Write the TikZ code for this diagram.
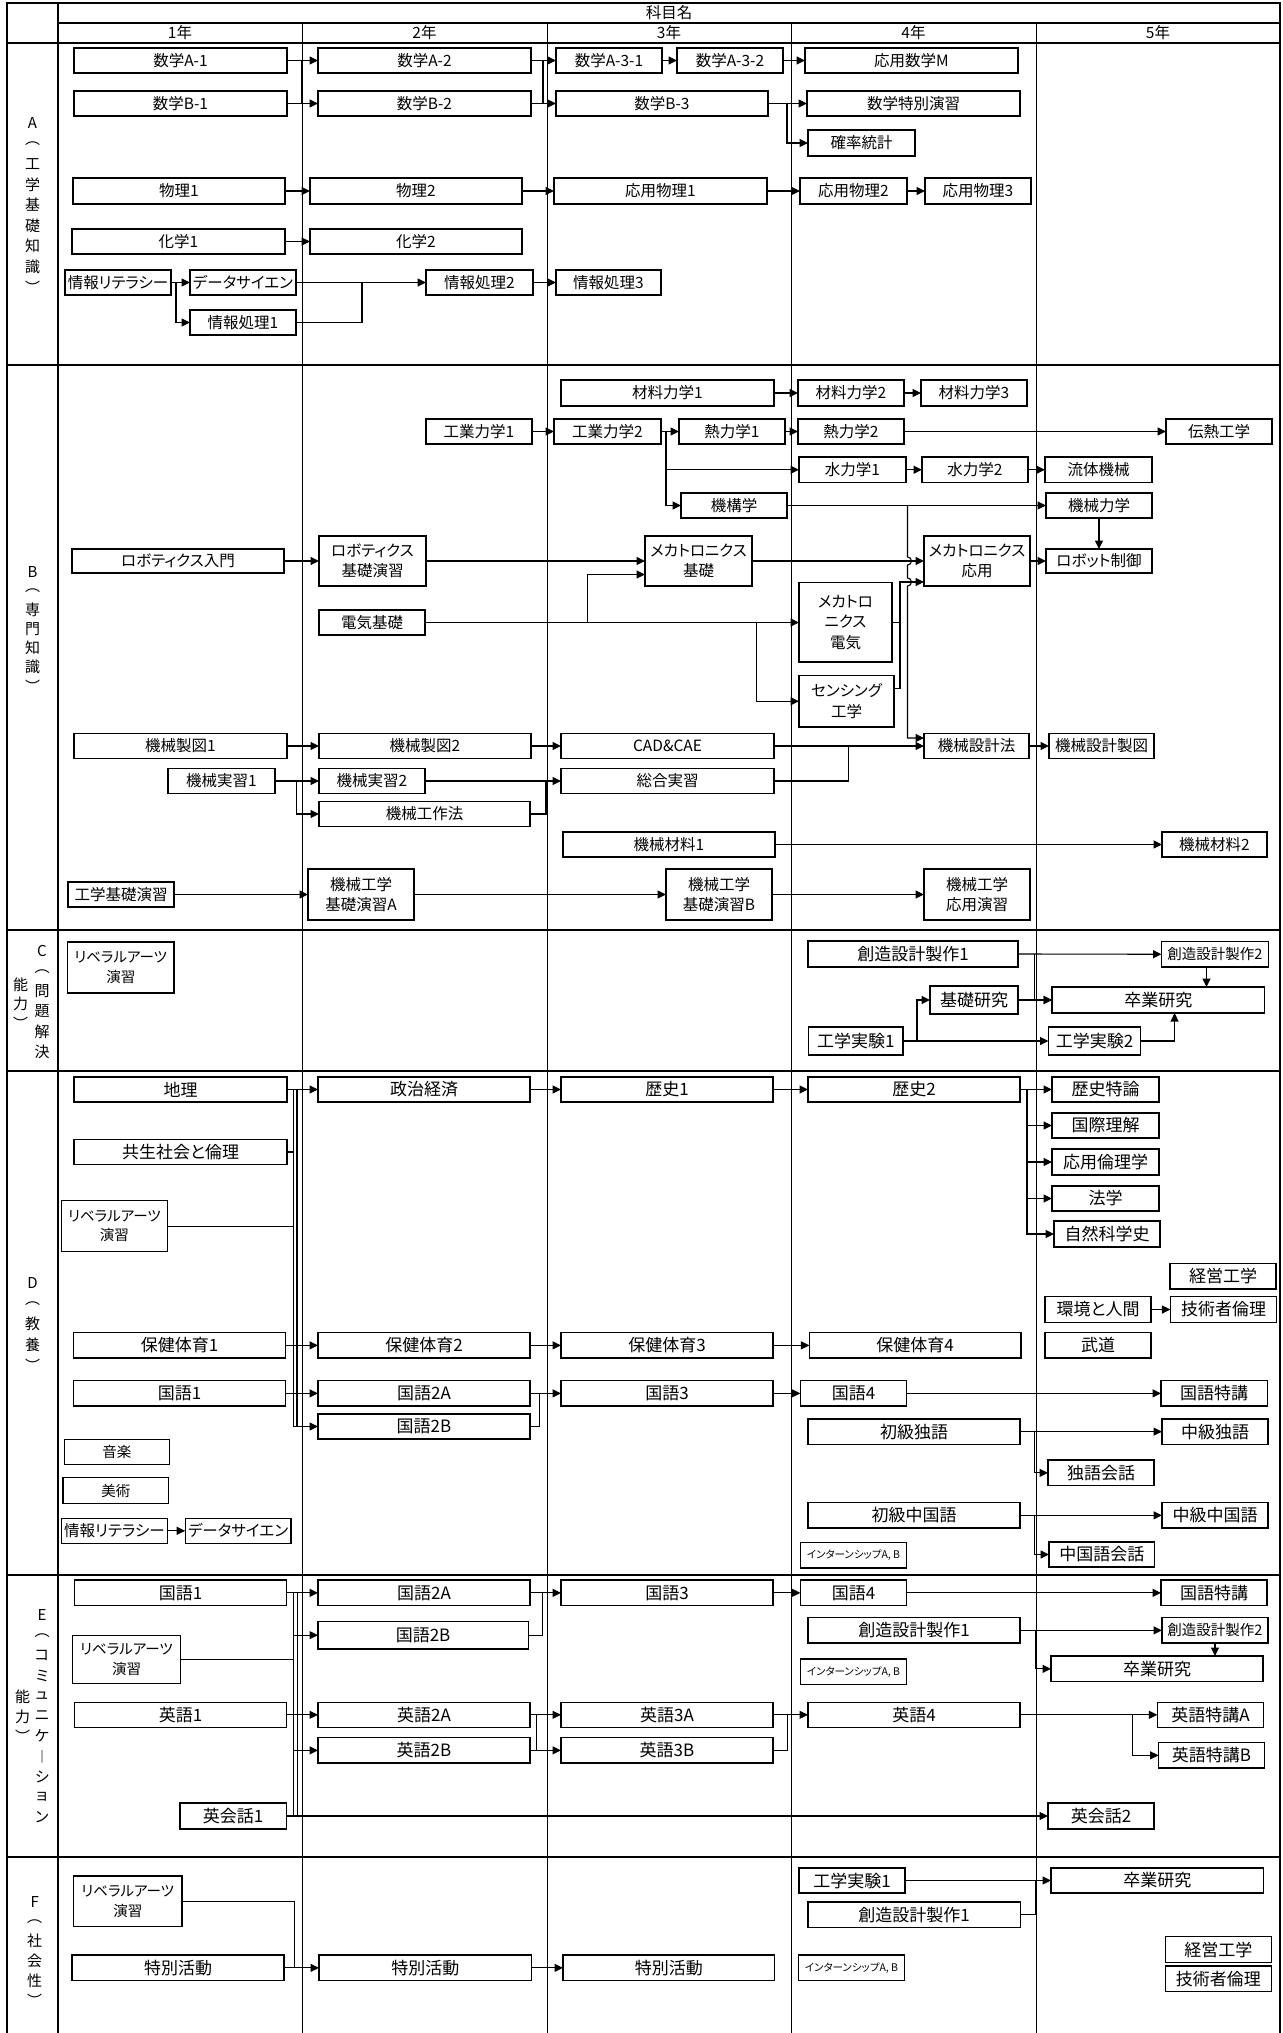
\documentclass[tikz,border=0pt]{standalone}
\usepackage{fontspec}
\usepackage{tikz}
\usetikzlibrary{arrows.meta}
\newfontfamily\jp[RawFeature=+palt]{Noto Sans CJK JP}

\tikzset{
  subjbox/.style={draw, line width=1.2pt, fill=white, inner sep=0pt, outer sep=0pt, align=center, font=\jp\fontsize{15.5}{20.5}\selectfont},
  normtxt/.style={font=\jp\fontsize{15.5}{20.5}\selectfont},
  bigtxt/.style={font=\jp\fontsize{17}{20}\selectfont},
  smalltxt/.style={font=\jp\fontsize{14.5}{19.5}\selectfont},
  tinytxt/.style={font=\jp\fontsize{10.5}{12}\selectfont},
  seclab/.style={inner sep=0pt, font=\jp\fontsize{15}{15}\selectfont},
  hdr/.style={inner sep=0pt, font=\jp\fontsize{15.5}{16}\selectfont}
}
% subject box by its corners: [opts]{name}{x1}{y1}{x2}{y2}{text}
\newcommand{\subj}[7][]{\node[subjbox,minimum width={(#5-#3)*1pt},minimum height={(#6-#4)*1pt},#1] (#2) at ({(#3+#5)/2},{(#4+#6)/2}) {#7};}

\begin{document}
\begin{tikzpicture}[x=1pt, y=-1pt,
  arr/.style={line width=1.1pt, -{Triangle[length=8.5pt,width=8pt]}},
  ln/.style={line width=1.1pt},
  thickrule/.style={line width=2.2pt},
  thinrule/.style={line width=0.9pt}]
\useasboundingbox (0,0) rectangle (1282,2033);
\fill[white] (0,0) rectangle (1282,2033);

% ---- Table frame ----
\foreach \xc in {302,547,791,1036}
  \draw[thinrule] (\xc,22.7) -- (\xc,2033);
\draw[thickrule] (7,2033) -- (7,3) -- (1280,3) -- (1280,2033);
\draw[thickrule] (58,3) -- (58,2033);
\draw[thickrule] (58,22.7) -- (1280,22.7);
\foreach \yr in {42.7,365,930,1071,1575,1857}
  \draw[thickrule] (7,\yr) -- (1280,\yr);

% header
\node[hdr] (kamoku) at (669,13) {科目名};
\foreach \n [count=\i] in {1,...,5}
  \node[hdr] (year\i) at ({180+(\i-1)*244.5},32.7) {\n 年};

% section labels (vertical)
\foreach \c [count=\i] in {A,︵,工,学,基,礎,知,識,︶}
  \node[seclab] (labA\i) at (32.5,{123+(\i-1)*20.5}) {\c};
\foreach \c [count=\i] in {B,︵,専,門,知,識,︶}
  \node[seclab] (labB\i) at (32.5,{572+(\i-1)*19}) {\c};
\foreach \c [count=\i] in {C,︵,問,題,解,決}
  \node[seclab] (labC\i) at (42,{951+(\i-1)*20.2}) {\c};
\foreach \c [count=\i] in {能,力,︶}
  \node[seclab] (labCc\i) at (20.5,{985+(\i-1)*19}) {\c};
\foreach \c [count=\i] in {D,︵,教,養,︶}
  \node[seclab] (labD\i) at (32.5,{1283+(\i-1)*20.5}) {\c};
\foreach \c [count=\i] in {E,︵,コ,ミ,ュ,ニ,ケ,︱,シ,ョ,ン}
  \node[seclab] (labE\i) at (42,{1615+(\i-1)*20.2}) {\c};
\foreach \c [count=\i] in {能,力,︶}
  \node[seclab] (labEc\i) at (22.5,{1696.7+(\i-1)*20}) {\c};
\foreach \c [count=\i] in {F,︵,社,会,性,︶}
  \node[seclab] (labF\i) at (34.7,{1901.7+(\i-1)*19.7}) {\c};

% ---- A: 工学基礎知識 ----
\subj{mA1}{74}{48}{287}{73}{数学A-1}
\subj{mA2}{318}{48}{531}{73}{数学A-2}
\subj{mA31}{556}{48}{662}{73}{数学A-3-1}
\subj{mA32}{677}{48}{783}{73}{数学A-3-2}
\subj{appM}{805}{48}{1018}{73}{応用数学M}
\subj{mB1}{74}{91}{287}{116}{数学B-1}
\subj{mB2}{318}{91}{531}{116}{数学B-2}
\subj{mB3}{556}{91}{768}{116}{数学B-3}
\subj{mSp}{807}{91}{1020}{116}{数学特別演習}
\subj{prob}{808}{130}{915}{156}{確率統計}
\subj{phy1}{73}{178}{285}{204}{物理1}
\subj{phy2}{310}{178}{522}{204}{物理2}
\subj{aph1}{554}{178}{767}{204}{応用物理1}
\subj{aph2}{800}{178}{907}{204}{応用物理2}
\subj{aph3}{925}{178}{1031}{204}{応用物理3}
\subj{chm1}{72}{229}{285}{254}{化学1}
\subj{chm2}{310}{229}{522}{254}{化学2}
\subj{litA}{65}{270}{171}{295}{情報リテラシー}
\subj{dsA}{190}{270}{296}{295}{データサイエン}
\subj{ip2}{426}{270}{533}{295}{情報処理2}
\subj{ip3}{556}{270}{661}{295}{情報処理3}
\subj{ip1}{190}{310}{296}{335}{情報処理1}

\draw[arr] (mA1.east) -- (mA2.west);
\draw[arr] (mB1.east) -- (mB2.west);
\coordinate (jA1) at (302,60.5);
\draw[ln] (jA1) -- (jA1 |- mB1.east);
\draw[arr] (mA2.east) -- (mA31.west);
\draw[arr] (mB2.east) -- (mB3.west);
\coordinate (jA2) at (543,60.5);
\draw[ln] (jA2) -- (jA2 |- mB2.east);
\draw[arr] (mA31.east) -- (mA32.west);
\draw[arr] (mA32.east) -- (appM.west);
\draw[arr] (mB3.east) -- (mSp.west);
\coordinate (jA3) at (787,103.5);
\draw[arr] (jA3) |- (prob.west);
\draw[arr] (phy1.east) -- (phy2.west);
\draw[arr] (phy2.east) -- (aph1.west);
\draw[arr] (aph1.east) -- (aph2.west);
\draw[arr] (aph2.east) -- (aph3.west);
\draw[arr] (chm1.east) -- (chm2.west);
\draw[arr] (litA.east) -- (dsA.west);
\coordinate (jA4) at (176,282.5);
\draw[arr] (jA4) |- (ip1.west);
\draw[arr] (dsA.east) -- (ip2.west);
\coordinate (jA5) at (362,282.5);
\draw[ln] (ip1.east) -| (jA5);
\draw[arr] (ip2.east) -- (ip3.west);

% ---- B: 専門知識 ----
\subj{zr1}{561}{380}{774}{406}{材料力学1}
\subj{zr2}{798}{380}{904}{406}{材料力学2}
\subj{zr3}{921}{380}{1027}{406}{材料力学3}
\subj{kg1}{426}{419}{532}{444}{工業力学1}
\subj{kg2}{554}{419}{661}{444}{工業力学2}
\subj{nt1}{679}{419}{785}{444}{熱力学1}
\subj{nt2}{798}{419}{904}{444}{熱力学2}
\subj{den}{1166}{419}{1272}{444}{伝熱工学}
\subj{sr1}{799}{457}{906}{482.5}{水力学1}
\subj{sr2}{922}{457}{1028}{482.5}{水力学2}
\subj{ryu}{1045}{457}{1152}{482.5}{流体機械}
\subj{kik}{681}{493}{787}{518}{機構学}
\subj{kir}{1046}{493}{1152}{518}{機械力学}
\subj{rbi}{72}{549}{284}{573}{ロボティクス入門}
\subj{rbk}{319}{536}{426}{586}{ロボティクス\\基礎演習}
\subj{mkk}{645}{536}{752}{586}{メカトロニクス\\基礎}
\subj{mko}{924}{536}{1030}{586}{メカトロニクス\\応用}
\subj{rbc}{1046}{549}{1152}{573}{ロボット制御}
\subj{dkk}{319}{610}{425}{635}{電気基礎}
\subj{mke}{799}{582.5}{892}{662}{メカトロ\\ニクス\\電気}
\subj{sen}{799}{675.5}{894}{727}{センシング\\工学}
\subj{sz1}{74}{733.5}{287}{758.5}{機械製図1}
\subj{sz2}{319}{733.5}{531}{758.5}{機械製図2}
\subj{cad}{561}{733.5}{774}{758.5}{CAD\&CAE}
\subj{sks}{924}{733.5}{1029}{758.5}{機械設計法}
\subj{ksz}{1049}{733.5}{1154}{758.5}{機械設計製図}
\subj{jz1}{168}{768.5}{275}{793.5}{機械実習1}
\subj{jz2}{319}{768.5}{425}{793.5}{機械実習2}
\subj{sgj}{561}{768.5}{774}{793.5}{総合実習}
\subj{kks}{319}{801.5}{530}{826.5}{機械工作法}
\subj{zi1}{563}{832}{775}{857}{機械材料1}
\subj{zi2}{1162}{832}{1267}{857}{機械材料2}
\subj{kke}{68}{882}{174}{907}{工学基礎演習}
\subj{kkA}{308}{869}{414}{920}{機械工学\\基礎演習A}
\subj{kkB}{666}{869}{772}{920}{機械工学\\基礎演習B}
\subj{kkO}{924}{869}{1030}{920}{機械工学\\応用演習}

\draw[arr] (zr1.east) -- (zr2.west);
\draw[arr] (zr2.east) -- (zr3.west);
\draw[arr] (kg1.east) -- (kg2.west);
\draw[arr] (kg2.east) -- (nt1.west);
\coordinate (jB1) at (666,431.5);
\draw[arr] (jB1) |- (sr1.west);
\draw[arr] (jB1) |- (kik.west);
\draw[arr] (nt1.east) -- (nt2.west);
\draw[arr] (nt2.east) -- (den.west);
\draw[arr] (sr1.east) -- (sr2.west);
\draw[arr] (sr2.east) -- (ryu.west);
\draw[arr] (kik.east) -- (kir.west);
% down to 機械設計法, hopping over two lines
\coordinate (jB2) at (907.5,505.5);
\coordinate (jB2b) at (907.5,738);
\draw[arr] (jB2) -- (907.5,557) arc[start angle=-90, end angle=90, radius=4]
  -- (907.5,578) arc[start angle=-90, end angle=90, radius=4]
  -- (jB2b) -- (jB2b -| sks.west);
\draw[arr] (rbi.east) -- (rbk.west);
\draw[arr] (rbk.east) -- (mkk.west);
\coordinate (jB3) at (587.5,622.5);
\coordinate (jB3b) at (587.5,574.5);
\draw[arr] (jB3) -- (jB3b) -- (jB3b -| mkk.west);
\draw[arr] (dkk.east) -- (dkk.east -| mke.west);
\coordinate (jB4) at (756.7,622.5);
\draw[arr] (jB4) |- (sen.west);
\draw[arr] (mkk.east) -- (mko.west);
\coordinate (jB5) at (900,582);
\draw[arr] ([yshift=12.5pt]sen.east) -| (jB5) -- (jB5 -| mko.west);
\draw[ln] (mke.east) -- (mke.east -| jB5);
\draw[arr] (mko.east) -- (rbc.west);
\draw[arr] (kir.south) -- (rbc.north);
\draw[arr] (sz1.east) -- (sz2.west);
\draw[arr] (sz2.east) -- (cad.west);
\draw[arr] (cad.east) -- (sks.west);
\draw[arr] (sks.east) -- (ksz.west);
\coordinate (jB6) at (848.3,746);
\draw[ln] (sgj.east) -| (jB6);
\draw[arr] (jz1.east) -- (jz2.west);
\coordinate (jB7) at (296.4,781);
\draw[arr] (jB7) |- (kks.west);
\draw[arr] (jz2.east) -- (sgj.west);
\coordinate (jB8) at (546,781);
\draw[ln] (kks.east) -| (jB8);
\draw[arr] (zi1.east) -- (zi2.west);
\draw[arr] (kke.east) -- (kkA.west);
\draw[arr] (kkA.east) -- (kkB.west);
\draw[arr] (kkB.east) -- (kkO.west);

\begin{scope}[subjbox/.append style={bigtxt}]
% ---- C: 問題解決能力 ----
\subj[smalltxt]{libC}{67.5}{942}{174}{993}{リベラルアーツ\\演習}
\subj{cre1}{808}{941}{1018}{967}{創造設計製作1}
\subj[smalltxt]{cre2}{1161.5}{941.5}{1268.5}{967}{創造設計製作2}
\subj{kiso}{930}{986}{1018}{1014}{基礎研究}
\subj{sotsu}{1052}{987}{1264.5}{1013}{卒業研究}
\subj{jk1}{808.5}{1027}{903}{1055}{工学実験1}
\subj{jk2}{1048.5}{1027}{1140.5}{1055}{工学実験2}

\draw[arr] (cre1.east) -- (cre2.west);
\coordinate (jC1) at (1034.3,954);
\draw[arr] (jC1) |- (sotsu.west);
\draw[arr] (kiso.east) -- (sotsu.west);
\coordinate (jC2) at (917,1041);
\draw[arr] (jC2) |- (kiso.west);
\draw[arr] (jk1.east) -- (jk2.west);
\draw[arr] (jk2.east) -| ([xshift=16.3pt]sotsu.south);
\draw[arr] ([xshift=-8.5pt]cre2.south) -- ([xshift=-8.5pt]cre2.south |- sotsu.north);

% ---- D: 教養 ----
\subj{geo}{74}{1077}{287}{1102}{地理}
\subj{pol}{318}{1077}{530}{1102}{政治経済}
\subj{his1}{561}{1077}{773}{1102}{歴史1}
\subj{his2}{808}{1077}{1020}{1102}{歴史2}
\subj{hisT}{1052}{1077}{1159}{1102}{歴史特論}
\subj{kok}{1052}{1113}{1159}{1138}{国際理解}
\subj{rin}{1052}{1149}{1159}{1175}{応用倫理学}
\subj{hou}{1052}{1186}{1159}{1211}{法学}
\subj{shz}{1054}{1221}{1160}{1247}{自然科学史}
\subj{kyo}{74}{1139.5}{287}{1164.5}{共生社会と倫理}
\subj[smalltxt]{libD}{61.3}{1200.7}{167.6}{1251.7}{リベラルアーツ\\演習}
\subj{mgD}{1170}{1263.3}{1276}{1289}{経営工学}
\subj{env}{1045}{1296.7}{1151}{1322.3}{環境と人間}
\subj{ethD}{1170.4}{1296.7}{1276.7}{1322.3}{技術者倫理}
\subj{hk1}{73.6}{1332.7}{285.4}{1358}{保健体育1}
\subj{hk2}{318}{1332.7}{530}{1358}{保健体育2}
\subj{hk3}{561}{1332.7}{773}{1358}{保健体育3}
\subj{hk4}{809.4}{1332.7}{1021}{1358}{保健体育4}
\subj{budo}{1045}{1332.7}{1151}{1358}{武道}
\subj{ko1}{73.6}{1380.7}{285.4}{1406}{国語1}
\subj{ko2A}{318}{1380.7}{530}{1406}{国語2A}
\subj{ko2B}{318}{1414}{530}{1439}{国語2B}
\subj{ko3}{561}{1380.7}{773}{1406}{国語3}
\subj{ko4}{800.4}{1380.7}{906.7}{1406}{国語4}
\subj{koT}{1161}{1380.7}{1267.3}{1406}{国語特講}
\subj{deu1}{808}{1419}{1020}{1444.3}{初級独語}
\subj{deu2}{1162}{1419}{1268}{1444.3}{中級独語}
\subj{deuK}{1048}{1460}{1154}{1485.7}{独語会話}
\subj{chn1}{808}{1502.7}{1020}{1528}{初級中国語}
\subj{chn2}{1162}{1502.7}{1268}{1528}{中級中国語}
\subj{chnK}{1049}{1542}{1154.5}{1567}{中国語会話}
\subj[tinytxt]{intD}{800.4}{1542.7}{906.7}{1568}{インターンシップA, B}
\subj[smalltxt]{music}{64.2}{1439.3}{169.7}{1464.7}{音楽}
\subj[smalltxt]{art}{63}{1477.7}{168.8}{1503.3}{美術}
\subj[normtxt]{litD}{61.3}{1518.3}{167.6}{1543.3}{情報リテラシー}
\subj[normtxt]{dsD}{185.2}{1518.3}{291}{1543.3}{データサイエン}

\draw[arr] (geo.east) -- (pol.west);
\coordinate (busD1) at (293.5,1089.5);
\coordinate (busD2) at (297,1089.5);
\draw[ln] (busD1) -- (busD1 |- ko2B.west);
\draw[ln] (busD2) -- (busD2 |- ko2B.west);
\draw[ln] (kyo.east) -- (kyo.east -| busD1);
\draw[ln] (libD.east) -- (libD.east -| busD1);
\draw[arr] (hk1.east) -- (hk2.west);
\draw[arr] (ko1.east) -- (ko2A.west);
\draw[arr] (busD1 |- ko2B.west) -- (ko2B.west);
\draw[arr] (pol.east) -- (his1.west);
\draw[arr] (his1.east) -- (his2.west);
\draw[arr] (his2.east) -- (hisT.west);
\coordinate (busD3) at (1027,1089.5);
\foreach \nd in {kok,rin,hou,shz}
  \draw[arr] (busD3) |- (\nd.west);
\draw[arr] (env.east) -- (ethD.west);
\draw[arr] (hk2.east) -- (hk3.west);
\draw[arr] (hk3.east) -- (hk4.west);
\draw[arr] (ko2A.east) -- (ko3.west);
\coordinate (jD1) at (539.6,1393.3);
\draw[ln] (ko2B.east) -| (jD1);
\draw[arr] (ko3.east) -- (ko4.west);
\draw[arr] (ko4.east) -- (koT.west);
\draw[arr] (deu1.east) -- (deu2.west);
\coordinate (jD2) at (1034.3,1431.7);
\draw[arr] (jD2) |- (deuK.west);
\draw[arr] (chn1.east) -- (chn2.west);
\coordinate (jD3) at (1034.3,1515.3);
\draw[arr] (jD3) |- (chnK.west);
\draw[arr] (litD.east) -- (dsD.west);

% ---- E: コミュニケーション能力 ----
\subj{eko1}{74.4}{1580}{286.6}{1605.7}{国語1}
\subj{eko2A}{318}{1580}{530}{1605.7}{国語2A}
\subj{eko2B}{318}{1621.3}{528.2}{1649}{国語2B}
\subj{eko3}{561}{1580}{773}{1605.7}{国語3}
\subj{eko4}{800.4}{1580}{906.7}{1605.7}{国語4}
\subj{ekoT}{1161}{1580}{1267}{1605.7}{国語特講}
\subj[smalltxt]{libE}{72.4}{1635.7}{180.7}{1683.3}{リベラルアーツ\\演習}
\subj{cre1E}{808}{1617.7}{1020}{1643}{創造設計製作1}
\subj[smalltxt]{cre2E}{1162}{1617.7}{1268}{1643}{創造設計製作2}
\subj{sotE}{1051}{1656}{1263}{1681.7}{卒業研究}
\subj[tinytxt]{intE}{800.4}{1659}{906.7}{1684.3}{インターンシップA, B}
\subj{en1}{74.4}{1702.3}{286.6}{1727.3}{英語1}
\subj{en2A}{318}{1702.3}{530}{1727.3}{英語2A}
\subj{en2B}{318}{1737.7}{530}{1763}{英語2B}
\subj{en3A}{561}{1702.3}{773}{1727.3}{英語3A}
\subj{en3B}{561}{1737.7}{773}{1763}{英語3B}
\subj{en4}{808}{1702.3}{1020}{1727.3}{英語4}
\subj{enTA}{1157.4}{1702.3}{1263.6}{1727.3}{英語特講A}
\subj{enTB}{1158.6}{1742.7}{1264.5}{1768}{英語特講B}
\subj{eka1}{180}{1803}{286.2}{1829}{英会話1}
\subj{eka2}{1048}{1803}{1154}{1829}{英会話2}

\draw[arr] (eko1.east) -- (eko2A.west);
\coordinate (busE1) at (293.5,1592.8);
\coordinate (busE2) at (297.6,1592.8);
\draw[ln] (busE1) -- (busE1 |- eka1.east);
\draw[ln] (busE2) -- (busE2 |- eka1.east);
\draw[arr] (busE1 |- eko2B.west) -- (eko2B.west);
\draw[ln] (libE.east) -- (libE.east -| busE1);
\draw[arr] (en1.east) -- (en2A.west);
\draw[arr] (busE1 |- en2B.west) -- (en2B.west);
\draw[arr] (eka1.east) -- (eka2.west);
\draw[arr] (eko2A.east) -- (eko3.west);
\coordinate (jE1) at (542.5,1592.8);
\draw[ln] (eko2B.east) -| (jE1);
\draw[arr] (eko3.east) -- (eko4.west);
\draw[arr] (eko4.east) -- (ekoT.west);
\draw[arr] (cre1E.east) -- (cre2E.west);
\coordinate (jE2) at (1035.5,1630.3);
\draw[arr] (jE2) |- (sotE.west);
\draw[arr] (cre2E.south) -- (cre2E.south |- sotE.north);
\draw[arr] (en2A.east) -- (en3A.west);
\coordinate (jE3) at (536.4,1714.8);
\draw[arr] (jE3) |- (en3B.west);
\draw[ln] (en2B.east) -- (en2B.east -| jE3);
\draw[arr] (en3A.east) -- (en4.west);
\coordinate (jE4) at (787.4,1714.8);
\draw[ln] (en3B.east) -| (jE4);
\draw[arr] (en4.east) -- (enTA.west);
\coordinate (jE5) at (1132.8,1714.8);
\draw[arr] (jE5) |- (enTB.west);

% ---- F: 社会性 ----
\subj[smalltxt]{libF}{73.6}{1876}{182}{1926.7}{リベラルアーツ\\演習}
\subj{tk1}{72}{1955}{284}{1980.7}{特別活動}
\subj{tk2}{319}{1955}{531.5}{1980.7}{特別活動}
\subj{tk3}{563}{1955}{774.7}{1980.7}{特別活動}
\subj{jkF}{799}{1868}{905}{1893}{工学実験1}
\subj{creF}{808}{1902}{1020.4}{1927.3}{創造設計製作1}
\subj{sotF}{1051}{1868}{1263.6}{1893}{卒業研究}
\subj[tinytxt]{intF}{798.4}{1955}{904.7}{1980.7}{インターンシップA, B}
\subj{mgF}{1165.5}{1936.7}{1271.4}{1962.7}{経営工学}
\subj{ethF}{1165.5}{1966}{1271.4}{1991.7}{技術者倫理}

\draw[arr] (tk1.east) -- (tk2.west);
\coordinate (jF1) at (294.4,1967.8);
\draw[ln] (libF.east) -| (jF1);
\draw[arr] (tk2.east) -- (tk3.west);
\draw[arr] (jkF.east) -- (sotF.west);
\coordinate (jF2) at (1035.5,1880.5);
\draw[ln] (creF.east) -| (jF2);
\end{scope}

\end{tikzpicture}
\end{document}
